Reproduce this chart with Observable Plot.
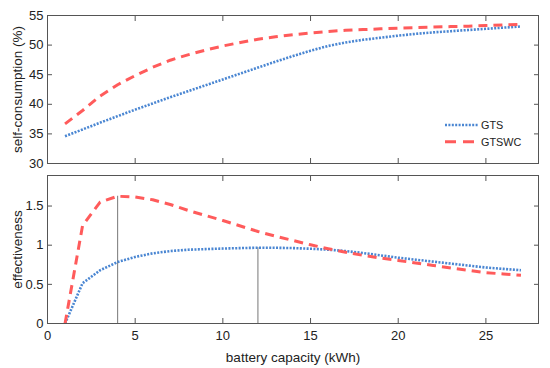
<!DOCTYPE html>
<html><head><meta charset="utf-8">
<script src="https://cdn.jsdelivr.net/npm/d3@7"></script>
<script src="https://cdn.jsdelivr.net/npm/@observablehq/plot@0.6"></script>
<style>
body{margin:0;background:#fff;font-family:"Liberation Sans",Arial,sans-serif}
#wrap{position:relative;width:550px;height:368px}
#wrap svg{position:absolute;left:0;overflow:visible;background:transparent}
[aria-label$="axis label"] text{font-size:13.5px}
</style>
</head><body><div id="wrap"></div>
<script>
const capacity = [1,2,3,4,5,6,7,8,9,10,11,12,13,14,15,16,17,18,19,20,21,22,23,24,25,26,27];
const gtsSelf = [34.6,35.75,36.9,38.0,39.1,40.15,41.2,42.2,43.2,44.2,45.2,46.2,47.2,48.15,49.05,49.85,50.45,50.9,51.25,51.6,51.9,52.15,52.35,52.55,52.75,52.95,53.14];
const gtswcSelf = [36.7,38.95,41.4,43.3,44.85,46.25,47.45,48.35,49.15,49.85,50.45,51.0,51.4,51.75,52.05,52.3,52.5,52.62,52.75,52.86,52.95,53.05,53.13,53.2,53.3,53.4,53.48];
const gtsEff = [0,0.514,0.68,0.785,0.85,0.896,0.925,0.942,0.95,0.957,0.963,0.968,0.967,0.963,0.955,0.943,0.925,0.9,0.87,0.84,0.815,0.79,0.765,0.74,0.715,0.697,0.68];
const gtswcEff = [0,1.25,1.55,1.625,1.615,1.58,1.52,1.445,1.38,1.315,1.245,1.175,1.115,1.06,1.005,0.955,0.91,0.87,0.835,0.805,0.773,0.741,0.71,0.68,0.65,0.632,0.615];
const xTicks = [0,5,10,15,20,25];
const selfTicks = [30,35,40,45,50,55];
const effTicks = [0,0.5,1,1.5];
const seriesNames = ["GTS","GTSWC"];

const BLUE = "#4a86d2", RED = "#ff5b5b", AX = "#555";
const blueStyle = {stroke: BLUE, strokeWidth: 2.6, strokeDasharray: "2,1.4", strokeLinecap: "butt"};
const redStyle = {stroke: RED, strokeWidth: 3, strokeDasharray: "9,6", strokeLinecap: "butt"};

const rows = capacity.map((c, i) => ({c, gs: gtsSelf[i], ws: gtswcSelf[i], ge: gtsEff[i], we: gtswcEff[i]}));
const peakW = d3.greatest(rows, d => d.we);
const peakG = d3.greatest(rows, d => d.ge);
const peaks = [{x: peakW.c, y: peakW.we}, {x: peakG.c, y: peakG.ge}];

const common = {
  width: 550, marginLeft: 47, marginRight: 12,
  x: {domain: [0, 28]},
  style: {fontFamily: "'Liberation Sans', Arial, sans-serif", fontSize: "13px", color: "#222", background: "transparent", overflow: "visible"}
};
const ticksAround = (ticksY) => [
  Plot.axisX({anchor: "top", ticks: xTicks, tickSize: -5, tickFormat: () => "", stroke: AX, label: null}),
  Plot.axisY({anchor: "right", ticks: ticksY, tickSize: -5, tickFormat: () => "", stroke: AX, label: null}),
];

const topPlot = Plot.plot({
  ...common,
  height: 168, marginTop: 15, marginBottom: 5,
  y: {domain: [30, 55]},
  marks: [
    Plot.axisX({anchor: "bottom", ticks: xTicks, tickSize: -5, tickFormat: () => "", stroke: AX, label: null}),
    Plot.axisY({anchor: "left", ticks: selfTicks, tickSize: -5, tickPadding: 9, stroke: AX,
      label: "self-consumption (%)", labelAnchor: "center", labelOffset: 35, labelArrow: "none"}),
    ...ticksAround(selfTicks),
    Plot.lineY(rows, {x: "c", y: "gs", ...blueStyle}),
    Plot.lineY(rows, {x: "c", y: "ws", ...redStyle}),
    Plot.frame({stroke: AX})
  ]
});
topPlot.style.top = "0px";

const bottomPlot = Plot.plot({
  ...common,
  height: 200, marginTop: 7, marginBottom: 45,
  y: {domain: [0, 1.89]},
  marks: [
    Plot.axisX({anchor: "bottom", ticks: xTicks, tickSize: -5, tickPadding: 12, stroke: AX,
      label: "battery capacity (kWh)", labelAnchor: "center", labelOffset: 38, labelArrow: "none"}),
    Plot.axisY({anchor: "left", ticks: effTicks, tickSize: -5, tickPadding: 9, stroke: AX, tickFormat: d => String(d),
      label: "effectiveness", labelAnchor: "center", labelOffset: 35, labelArrow: "none"}),
    ...ticksAround(effTicks),
    Plot.ruleX(peaks, {x: "x", y1: () => 0, y2: "y", stroke: "#777", strokeWidth: 1}),
    Plot.lineY(rows, {x: "c", y: "ge", ...blueStyle}),
    Plot.lineY(rows, {x: "c", y: "we", ...redStyle}),
    Plot.frame({stroke: AX})
  ]
});
bottomPlot.style.top = "168px";

const wrap = document.getElementById("wrap");
wrap.append(bottomPlot, topPlot);

// legend
const leg = d3.select(wrap).append("svg").attr("width", 100).attr("height", 34)
  .style("left", "443px").style("top", "117px");
const styles = [blueStyle, redStyle];
seriesNames.forEach((name, i) => {
  const g = leg.append("g").attr("transform", `translate(0,${8 + i * 16.7})`);
  g.append("line").attr("x1", 2).attr("x2", 35).attr("y1", 0).attr("y2", 0)
    .attr("stroke", styles[i].stroke).attr("stroke-width", styles[i].strokeWidth)
    .attr("stroke-dasharray", i === 0 ? "2,1.4" : "11,7");
  g.append("text").attr("x", 38).attr("y", 0).attr("dy", "0.36em")
    .attr("font-family", "'Liberation Sans', Arial, sans-serif").attr("font-size", 10.8)
    .attr("fill", "#222").text(name);
});
</script>
</body></html>
